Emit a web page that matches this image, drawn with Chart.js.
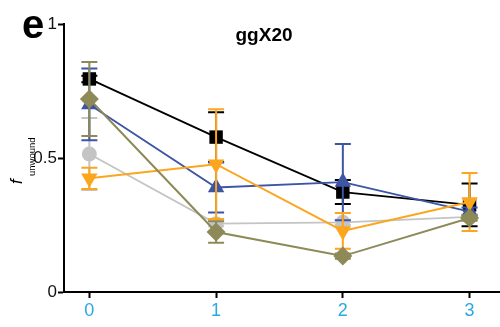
<!DOCTYPE html>
<html>
<head>
<meta charset="utf-8">
<script src="https://cdn.jsdelivr.net/npm/chart.js@4/dist/chart.umd.min.js"></script>
<style>
  html, body { margin: 0; padding: 0; background: #fff; }
  #wrap { width: 500px; height: 327px; }
</style>
</head>
<body>
<div id="wrap"><canvas id="c" width="500" height="327"></canvas></div>
<script>
// Time points on the x axis
const timePoints = [0, 1, 2, 3];
const xTickLabels = ['0', '1', '2', '3'];
const yTickValues = [0, 0.5, 1];

// Fraction unwound (mean) and error (half-width) for each series
const blackMean  = [0.795, 0.578, 0.373, 0.325];
const blackErr   = [0.012, 0.093, 0.045, 0.080];
const blueMean   = [0.700, 0.390, 0.410, 0.300];
const blueErr    = [0.134, 0.093, 0.142, 0.015];
const grayMean   = [0.515, 0.255, 0.260, 0.280];
const grayErr    = [0.134, 0.010, 0.010, 0.010];
const orangeMean = [0.424, 0.477, 0.228, 0.336];
const orangeErr  = [0.040, 0.205, 0.067, 0.108];
const oliveMean  = [0.720, 0.224, 0.134, 0.276];
const oliveErr   = [0.138, 0.040, 0.010, 0.010];

function pts(means) {
  return timePoints.map((t, i) => ({ x: t, y: means[i] }));
}

function series(means, errs, color, style, radius, width, rotation) {
  return {
    data: pts(means),
    errors: errs,
    borderColor: color,
    backgroundColor: color,
    pointBackgroundColor: color,
    pointBorderColor: color,
    pointStyle: style,
    pointRadius: radius,
    pointRotation: rotation || 0,
    pointBorderWidth: 0,
    borderWidth: width,
    tension: 0,
    clip: false
  };
}

// Index 0 is drawn last (on top)
const datasets = [
  series(oliveMean,  oliveErr,  '#8d8a58', 'rectRot',  9.5, 2.0),
  series(orangeMean, orangeErr, '#fba61c', 'triangle', 9.5, 2.0, 180),
  series(blueMean,   blueErr,   '#3c55a5', 'triangle', 9.5, 1.8),
  series(grayMean,   grayErr,   '#c4c4c4', 'circle',   7.5, 1.8),
  series(blackMean,  blackErr,  '#000000', 'rect',     9.5, 1.8)
];

// Vertical error bars with caps, drawn just before each dataset's line
const errorBars = {
  id: 'errorBars',
  beforeDatasetDraw(chart, args) {
    const ds = chart.data.datasets[args.index];
    const xs = chart.scales.x, ys = chart.scales.y;
    const ctx = chart.ctx;
    ctx.save();
    ctx.strokeStyle = ds.borderColor;
    ctx.lineWidth = 2;
    ds.data.forEach((p, i) => {
      const e = ds.errors[i];
      const px = xs.getPixelForValue(p.x);
      const top = ys.getPixelForValue(p.y + e);
      const bot = ys.getPixelForValue(p.y - e);
      const cap = 8;
      ctx.beginPath();
      ctx.moveTo(px, top); ctx.lineTo(px, bot);
      ctx.moveTo(px - cap, top); ctx.lineTo(px + cap, top);
      ctx.moveTo(px - cap, bot); ctx.lineTo(px + cap, bot);
      ctx.stroke();
    });
    ctx.restore();
  }
};

// Panel letter, title and the y-axis label with subscript
const annotations = {
  id: 'annotations',
  afterDraw(chart) {
    const ctx = chart.ctx;
    ctx.save();
    ctx.fillStyle = '#000';
    ctx.textBaseline = 'alphabetic';

    ctx.font = 'bold 40px "Liberation Sans", Arial, sans-serif';
    ctx.textAlign = 'left';
    ctx.fillText('e', 22, 38);

    ctx.font = 'bold 19px "Liberation Sans", Arial, sans-serif';
    ctx.textAlign = 'center';
    ctx.fillText('ggX20', 264, 41);

    ctx.translate(0, 184);
    ctx.rotate(-Math.PI / 2);
    ctx.textAlign = 'left';
    ctx.font = 'italic 17px "Liberation Sans", Arial, sans-serif';
    ctx.fillText('f', 0, 22);
    ctx.font = '9.5px "Liberation Sans", Arial, sans-serif';
    ctx.fillText('unwound', 8, 35);
    ctx.restore();
  }
};

new Chart(document.getElementById('c'), {
  type: 'line',
  data: { datasets },
  options: {
    responsive: false,
    devicePixelRatio: 1,
    animation: false,
    layout: { autoPadding: false, padding: { top: 24, right: 0, left: 0, bottom: 0 } },
    plugins: { legend: { display: false }, tooltip: { enabled: false }, title: { display: false } },
    scales: {
      x: {
        type: 'linear',
        min: -0.2,
        max: 3.24,
        afterFit(scale) { scale.height = 35; scale.paddingLeft = 0; scale.paddingRight = 0; },
        afterBuildTicks(scale) { scale.ticks = timePoints.map(v => ({ value: v })); },
        border: { display: true, color: '#000', width: 2 },
        grid: { display: true, drawOnChartArea: false, tickLength: 6, tickWidth: 2, tickColor: '#000' },
        ticks: {
          color: '#29a9e1',
          padding: 2,
          font: { family: '"Liberation Sans", Arial, sans-serif', size: 18 },
          callback: (v) => xTickLabels[timePoints.indexOf(v)] ?? ''
        }
      },
      y: {
        min: 0,
        max: 1,
        afterFit(scale) { scale.width = 64; scale.paddingTop = 0; scale.paddingBottom = 0; },
        afterBuildTicks(scale) { scale.ticks = yTickValues.map(v => ({ value: v })); },
        border: { display: true, color: '#000', width: 2 },
        grid: { display: true, drawOnChartArea: false, tickLength: 6, tickWidth: 2, tickColor: '#000' },
        ticks: {
          color: '#111',
          padding: 1,
          font: { family: '"Liberation Sans", Arial, sans-serif', size: 17 },
          callback: (v) => String(v)
        }
      }
    }
  },
  plugins: [errorBars, annotations]
});
</script>
</body>
</html>
